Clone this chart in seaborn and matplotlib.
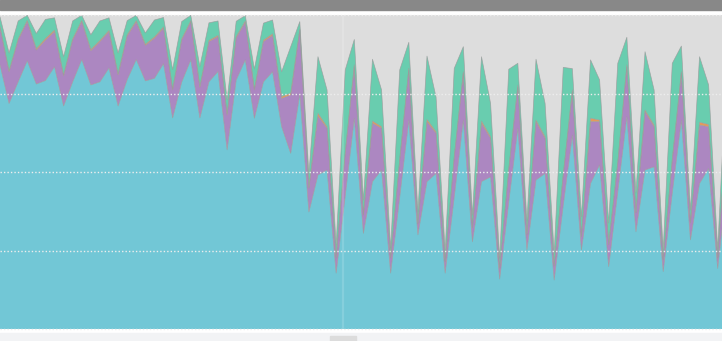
import numpy as np
import pandas as pd
import matplotlib
matplotlib.use("Agg")
import matplotlib.pyplot as plt
import seaborn as sns
from matplotlib.patches import Rectangle

# ---- data ----
series_names = ["cyan", "purple", "orange", "green"]
cyan = [84.2, 71.9, 78.8, 85.5, 78.1, 79.2, 83.6, 71.1, 78.8, 85.9,
        77.8, 78.8, 83.2, 71.1, 79.5, 85.9, 79.1, 79.9, 84.6, 67.3,
        78.7, 85.8, 67.3, 78.8, 82.1, 57.1, 79.4, 85.8, 67.2, 78.8,
        82.0, 64.5, 56.0, 74.9, 37.3, 49.1, 50.7, 17.8, 42.4, 67.2,
        30.5, 47.0, 50.7, 17.8, 42.1, 66.6, 30.0, 47.0, 49.6, 17.8,
        42.1, 66.6, 27.8, 47.0, 48.5, 15.9, 40.5, 64.0, 25.2, 47.5,
        49.6, 15.6, 39.5, 61.8, 25.2, 46.4, 52.3, 19.9, 43.8, 67.7,
        31.0, 50.7, 51.7, 18.3, 43.4, 66.6, 28.4, 46.4, 51.2, 19.3,
        45.9]
purple = [11.8, 10.1, 13.3, 12.5, 10.8, 12.9, 11.2, 9.6, 13.3, 12.1,
          10.9, 12.8, 11.6, 9.9, 13.9, 12.0, 11.3, 12.8, 11.3, 8.9,
          13.4, 12.1, 9.7, 12.8, 11.1, 11.1, 13.4, 12.0, 9.0, 12.8,
          11.6, 9.0, 18.6, 20.4, 7.6, 18.8, 13.3, 4.8, 13.7, 16.4,
          5.8, 18.6, 13.3, 4.8, 11.8, 16.0, 3.5, 19.1, 12.8, 3.6,
          12.7, 14.9, 4.4, 18.6, 12.3, 3.5, 10.2, 13.2, 4.8, 18.6,
          11.2, 4.5, 9.6, 13.8, 4.2, 19.7, 13.8, 6.9, 9.1, 15.9,
          6.0, 18.6, 12.8, 3.7, 10.5, 14.9, 5.4, 18.6, 13.3, 3.3,
          18.2]
orange = [0.4, 0.3, 0.4, 0.4, 0.5, 0.5, 0.5, 0.3, 0.4, 0.4,
          0.4, 0.4, 0.4, 0.3, 0.4, 0.4, 0.4, 0.4, 0.4, 0.3,
          0.4, 0.4, 0.3, 0.4, 0.4, 0.3, 0.4, 0.4, 0.3, 0.5,
          0.5, 0.6, 0.6, 0.3, 0.2, 0.9, 0.5, 0.2, 0.2, 0.6,
          0.2, 0.7, 0.5, 0.2, 0.2, 0.5, 0.2, 0.7, 0.5, 0.2,
          0.2, 0.5, 0.2, 0.7, 0.5, 0.2, 0.2, 0.6, 0.2, 0.5,
          0.5, 0.2, 0.2, 0.6, 0.2, 1.1, 0.5, 0.2, 0.2, 0.6,
          0.2, 0.5, 0.5, 0.2, 0.2, 0.5, 0.2, 0.9, 0.7, 0.2,
          0.5]
green = [3.1, 5.7, 5.7, 1.6, 4.8, 6.1, 3.9, 5.8, 5.7, 1.6,
         4.7, 6.2, 4.0, 6.7, 4.5, 1.7, 3.6, 5.4, 3.0, 6.2,
         5.5, 1.7, 6.4, 5.6, 4.6, 4.6, 4.9, 1.7, 6.4, 5.4,
         4.4, 7.9, 14.8, 2.4, 4.3, 18.0, 11.7, 4.0, 26.3, 8.1,
         4.6, 19.7, 11.7, 3.0, 28.5, 8.3, 3.6, 20.2, 11.0, 3.3,
         28.1, 8.0, 3.9, 20.5, 10.6, 3.0, 31.9, 6.9, 4.2, 19.4,
         10.6, 3.9, 34.1, 6.8, 6.2, 18.6, 12.8, 6.8, 31.6, 8.8,
         6.2, 18.6, 11.2, 3.0, 30.6, 8.2, 3.9, 20.9, 12.6, 2.6,
         19.6]
y_ticks = [0, 25, 50, 75, 100]

colors = ["#72c7d6", "#ac87c1", "#e49a5c", "#69cdaf"]

df = pd.DataFrame({"cyan": cyan, "purple": purple,
                   "orange": orange, "green": green})
df["idx"] = np.arange(len(df))

sns.set_theme(style="white")
fig = plt.figure(figsize=(7.22, 3.41), dpi=100)
fig.patch.set_facecolor("white")

W, H = 722.0, 341.0
ax = fig.add_axes([0, (H - 329) / H, 1, (329 - 15.3) / H])
ax.set_facecolor("#dddddd")

ax.stackplot(df["idx"], [df[c] for c in series_names], colors=colors,
             edgecolor="none", linewidth=0, zorder=2)

# thin boundary lines between layers
cum = df[series_names].cumsum(axis=1)
long = cum.assign(idx=df["idx"]).melt(id_vars="idx", var_name="layer", value_name="top")
sns.lineplot(data=long, x="idx", y="top", units="layer", estimator=None,
             color="#9a9a9a", lw=0.5, alpha=0.8, ax=ax, zorder=2.5, legend=False)

ax.set_xlim(0, W / 9.085)
ax.set_ylim(0, 100)
ax.set_yticks(y_ticks)
ax.set_xticks([])
ax.set_xlabel("")
ax.set_ylabel("")
for t in y_ticks:
    ax.axhline(t, color="#eeeeee", lw=1.0, ls=(0, (1, 1.5)), zorder=3,
               clip_on=False)
ax.axvline(343 / 9.085, color="white", alpha=0.15, lw=1.6, zorder=3)
ax.tick_params(left=False, bottom=False, labelleft=False, labelbottom=False)
for s in ax.spines.values():
    s.set_visible(False)

# chrome: top bar and bottom strip
fig.patches.append(Rectangle((0, (H - 10) / H), 1, 10 / H, transform=fig.transFigure,
                             color="#888888", zorder=0))
fig.patches.append(Rectangle((0, 0), 1, 8 / H, transform=fig.transFigure,
                             color="#f2f3f5", zorder=0))
fig.patches.append(Rectangle((330 / W, 0), 26 / W, 5 / H, transform=fig.transFigure,
                             color="#dcdcdc", zorder=1))

fig.savefig("out.png", dpi=100)
